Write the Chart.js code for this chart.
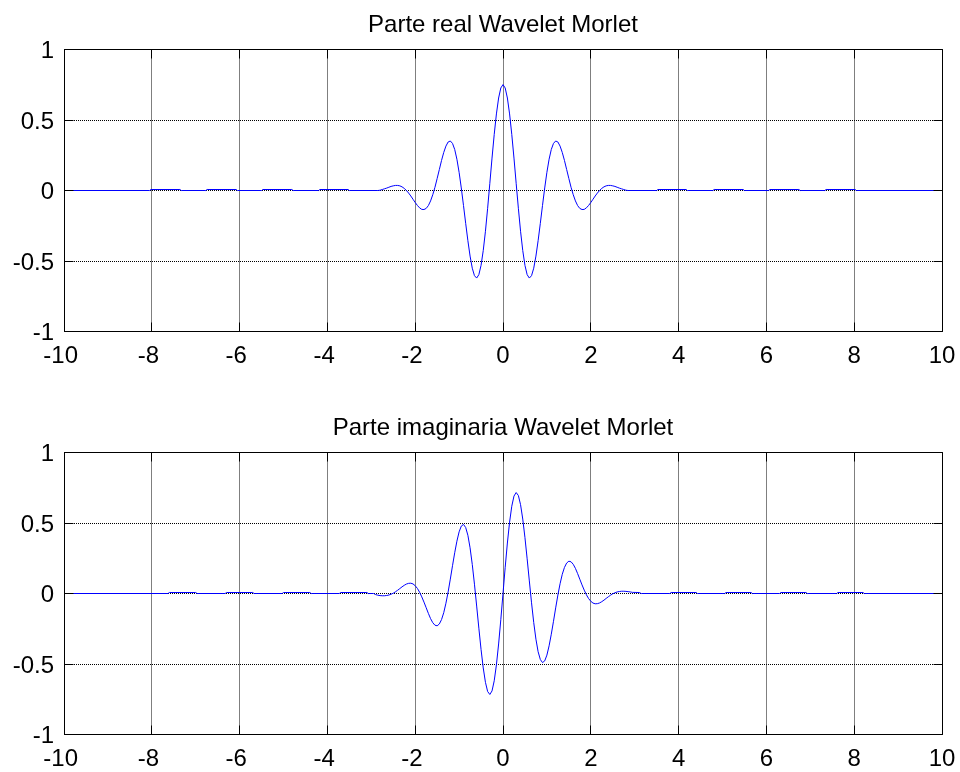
<!DOCTYPE html>
<html><head><meta charset="utf-8">
<script src="https://cdn.jsdelivr.net/npm/chart.js@4.4.0/dist/chart.umd.min.js"></script>
<style>
html,body{margin:0;padding:0;background:#fff;}
#wrap{position:relative;width:960px;height:772px;background:#fff;}
canvas{position:absolute;left:0;display:block;}
</style></head><body>
<div id="wrap">
<canvas id="c1" width="960" height="403" style="top:0"></canvas>
<canvas id="c2" width="960" height="369" style="top:403px"></canvas>
</div>
<script>
// ---- data ----
const xTicks = [-10, -8, -6, -4, -2, 0, 2, 4, 6, 8, 10];
const yTicks = [-1, -0.5, 0, 0.5, 1];
const titles = ['Parte real Wavelet Morlet', 'Parte imaginaria Wavelet Morlet'];

const centerX = [
 -2.80,-2.75,-2.70,-2.65,-2.60,-2.55,-2.50,-2.45,-2.40,-2.35,-2.30,-2.25,-2.20,-2.15,-2.10,-2.05,
 -2.00,-1.95,-1.90,-1.85,-1.80,-1.75,-1.70,-1.65,-1.60,-1.55,-1.50,-1.45,-1.40,-1.35,-1.30,-1.25,
 -1.20,-1.15,-1.10,-1.05,-1.00,-0.95,-0.90,-0.85,-0.80,-0.75,-0.70,-0.65,-0.60,-0.55,-0.50,-0.45,
 -0.40,-0.35,-0.30,-0.25,-0.20,-0.15,-0.10,-0.05,0,
 0.05,0.10,0.15,0.20,0.25,0.30,0.35,0.40,0.45,0.50,0.55,0.60,0.65,0.70,0.75,0.80,
 0.85,0.90,0.95,1.00,1.05,1.10,1.15,1.20,1.25,1.30,1.35,1.40,1.45,1.50,1.55,1.60,
 1.65,1.70,1.75,1.80,1.85,1.90,1.95,2.00,2.05,2.10,2.15,2.20,2.25,2.30,2.35,2.40,
 2.45,2.50,2.55,2.60,2.65,2.70,2.75,2.80
];

const realLeftX  = [-10,-8.05,-8.02,-7.36,-7.33,-6.77,-6.74,-6.08,-6.05,-5.50,-5.47,-4.81,-4.78,-4.20,-4.17,-3.53,-3.50,-2.85];
const realLeftY  = [0,0,0.007,0.007,0,0,0.007,0.007,0,0,0.007,0.007,0,0,0.007,0.007,0,0];
const realCenterY = [
 0.002,0.007,0.012,0.017,0.023,0.029,0.033,0.036,0.036,0.033,0.026,0.015,0.000,-0.018,-0.039,-0.062,
 -0.085,-0.106,-0.123,-0.134,-0.135,-0.127,-0.107,-0.074,-0.030,0.023,0.085,0.149,0.213,0.270,0.315,0.344,
 0.351,0.334,0.291,0.222,0.129,0.018,-0.106,-0.233,-0.356,-0.465,-0.551,-0.604,-0.621,-0.597,-0.531,-0.426,
 -0.289,-0.126,0.051,0.230,0.398,0.543,0.656,0.727,0.751,
 0.727,0.656,0.543,0.398,0.230,0.051,-0.126,-0.289,-0.426,-0.531,-0.597,-0.621,-0.604,-0.551,-0.465,-0.356,
 -0.233,-0.106,0.018,0.129,0.222,0.291,0.334,0.351,0.344,0.315,0.270,0.213,0.149,0.085,0.023,-0.030,
 -0.074,-0.107,-0.127,-0.135,-0.134,-0.123,-0.106,-0.085,-0.062,-0.039,-0.018,0.000,0.015,0.026,0.033,0.036,
 0.036,0.033,0.029,0.023,0.017,0.012,0.007,0.002
];
const realRightX = [2.85,3.50,3.53,4.17,4.20,4.78,4.81,5.47,5.50,6.05,6.08,6.74,6.77,7.33,7.36,8.02,8.05,10];
const realRightY = [0,0,0.007,0.007,0,0,0.007,0.007,0,0,0.007,0.007,0,0,0.007,0.007,0,0];

const imagLeftX  = [-10,-7.63,-7.60,-7.00,-6.97,-6.33,-6.30,-5.70,-5.67,-5.03,-5.00,-4.40,-4.37,-3.73,-3.70,-3.10,-3.07,-2.95,-2.90,-2.85];
const imagLeftY  = [0,0,0.007,0.007,0,0,0.007,0.007,0,0,0.007,0.007,0,0,0.007,0.007,0,0,-0.008,-0.012];
const imagCenterY = [
 -0.015,-0.016,-0.016,-0.014,-0.011,-0.005,0.002,0.012,0.023,0.035,0.047,0.058,0.067,0.072,0.073,0.068,
 0.055,0.036,0.009,-0.024,-0.061,-0.101,-0.141,-0.178,-0.207,-0.225,-0.229,-0.216,-0.185,-0.136,-0.069,0.011,
 0.102,0.197,0.289,0.371,0.437,0.478,0.490,0.468,0.413,0.324,0.206,0.066,-0.089,-0.246,-0.397,-0.528,
 -0.630,-0.695,-0.716,-0.691,-0.619,-0.506,-0.358,-0.186,0,
 0.186,0.358,0.506,0.619,0.691,0.716,0.695,0.630,0.528,0.397,0.246,0.089,-0.066,-0.206,-0.324,-0.413,
 -0.468,-0.490,-0.478,-0.437,-0.371,-0.289,-0.197,-0.102,-0.011,0.069,0.136,0.185,0.216,0.229,0.225,0.207,
 0.178,0.141,0.101,0.061,0.024,-0.009,-0.036,-0.055,-0.068,-0.073,-0.072,-0.067,-0.058,-0.047,-0.035,-0.023,
 -0.012,-0.002,0.005,0.011,0.014,0.016,0.016,0.015
];
const imagRightX = [2.85,2.90,2.95,3.10,3.15,3.80,3.83,4.40,4.43,5.05,5.08,5.65,5.68,6.30,6.33,6.90,6.93,7.60,7.63,8.20,8.23,10];
const imagRightY = [0.013,0.011,0.008,0.007,0,0,0.007,0.007,0,0,0.007,0.007,0,0,0.007,0.007,0,0,0.007,0.007,0,0];

// ---- build ----
const realX = [...realLeftX, ...centerX, ...realRightX];
const realY = [...realLeftY, ...realCenterY, ...realRightY];
const imagX = [...imagLeftX, ...centerX, ...imagRightX];
const imagY = [...imagLeftY, ...imagCenterY, ...imagRightY];

const FONT = "'Liberation Sans', Arial, Helvetica, sans-serif";
const GRID = '#000000';
const TICKLEN = 9;

function align(p){ return Math.round(p - 0.5) + 0.5; }

const boxPlugin = {
  id: 'matlabBox',
  afterDraw(chart){
    const ctx = chart.ctx, a = chart.chartArea;
    const x = chart.scales.x, y = chart.scales.y;
    const L = align(a.left), R = align(a.right), T = align(a.top), B = align(a.bottom);
    ctx.save();
    ctx.strokeStyle = '#000000';
    ctx.lineWidth = 1;
    ctx.setLineDash([]);
    ctx.beginPath();
    ctx.moveTo(L, T); ctx.lineTo(R, T); ctx.lineTo(R, B); ctx.lineTo(L, B); ctx.closePath();
    xTicks.forEach(v => {
      const px = align(x.getPixelForValue(v));
      ctx.moveTo(px, B); ctx.lineTo(px, B - TICKLEN);
      ctx.moveTo(px, T); ctx.lineTo(px, T + TICKLEN);
    });
    yTicks.forEach(v => {
      const py = align(y.getPixelForValue(v));
      ctx.moveTo(L, py); ctx.lineTo(L + TICKLEN, py);
      ctx.moveTo(R, py); ctx.lineTo(R - TICKLEN, py);
    });
    ctx.stroke();
    ctx.restore();
  }
};

function makeChart(id, titleText, xs, ys){
  const el = document.getElementById(id);
  const H = el.height;
  return new Chart(el, {
    type: 'line',
    data: {
      datasets: [{
        data: xs.map((x, i) => ({x: x, y: ys[i]})),
        borderColor: '#0000ff',
        borderWidth: 1,
        pointRadius: 0,
        tension: 0,
        fill: false
      }]
    },
    options: {
      responsive: false,
      animation: false,
      events: [],
      layout: {padding: {left: 0, right: 18, top: 0, bottom: 0}},
      plugins: {
        legend: {display: false},
        tooltip: {enabled: false},
        title: {
          display: true, text: titleText, color: '#000', fullSize: false,
          font: {family: FONT, size: 24, weight: 'normal', lineHeight: 1.2},
          padding: {top: 10.6, bottom: 10.1}
        }
      },
      scales: {
        x: {
          type: 'linear', min: -10, max: 10,
          afterBuildTicks: s => { s.ticks = xTicks.map(v => ({value: v})); },
          afterFit: s => { s.height = H - 331.5; s.paddingLeft = 0; s.paddingRight = 0; },
          grid: {color: GRID, lineWidth: 1, drawTicks: false},
          border: {display: false, dash: [1, 1]},
          ticks: {
            color: '#000', font: {family: FONT, size: 24}, padding: 10,
            maxRotation: 0, autoSkip: false,
            callback: v => (v < 0 ? String(v) + ' ' : String(v))
          }
        },
        y: {
          type: 'linear', min: -1, max: 1,
          afterBuildTicks: s => { s.ticks = yTicks.map(v => ({value: v})); },
          afterFit: s => { s.width = 64; s.paddingTop = 0; s.paddingBottom = 0; },
          grid: {color: GRID, lineWidth: 1, drawTicks: false},
          border: {display: false, dash: [1, 1]},
          ticks: {
            color: '#000', font: {family: FONT, size: 24}, padding: 10, labelOffset: 2,
            callback: v => String(v)
          }
        }
      }
    },
    plugins: [boxPlugin]
  });
}

makeChart('c1', titles[0], realX, realY);
makeChart('c2', titles[1], imagX, imagY);
</script>
</body></html>
